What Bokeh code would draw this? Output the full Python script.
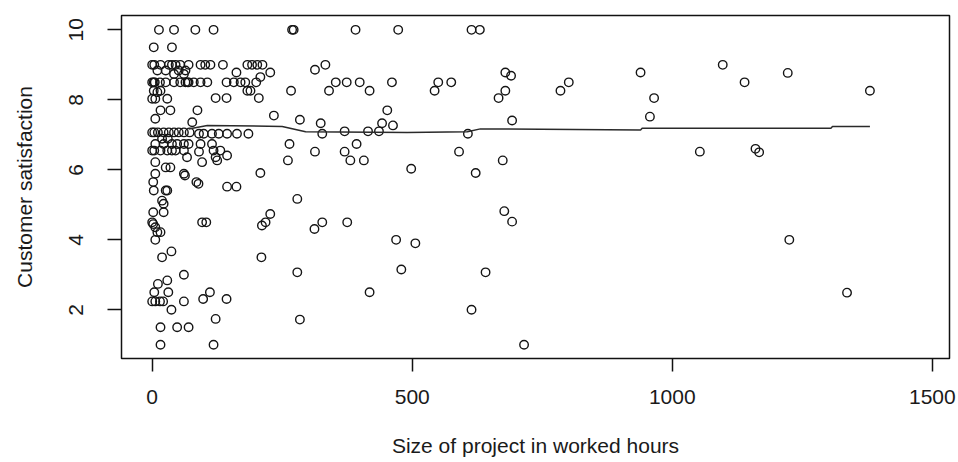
from bokeh.plotting import figure
from bokeh.models import Range1d, FixedTicker
from bokeh.embed import file_html
from bokeh.resources import INLINE

# Project size (worked hours) and customer satisfaction score, one entry per project
hours = [
    13, 42, 83, 118, 269, 272, 391, 473, 614, 630,
    3, 38,
    0, 4, 16, 32, 38, 45, 54, 70, 93, 102, 112, 136, 183, 192, 202, 212, 333, 1097,
    313,
    10, 26, 51, 64,
    162, 227, 679, 939, 1222,
    42, 61,
    690,
    208,
    0, 3, 5, 15, 26, 42, 54, 64, 68, 70, 80, 93, 106, 143, 157, 170, 179, 200, 353, 374, 399, 461, 550, 575, 801, 1139,
    3, 16, 183, 189, 267, 340, 418, 543, 679, 785, 1380,
    10,
    122, 143, 205, 666, 965,
    0, 6, 29,
    16, 35, 87, 452,
    234, 957, 6, 284, 692, 77,
    324, 442,
    463,
    370, 415, 436,
    0, 4, 11, 22, 32, 42, 51, 61, 72,
    90, 99, 115, 128, 144, 163, 185, 327, 607,
    19, 30,
    6, 22, 38, 48, 61, 70, 93, 115, 264, 393,
    1160,
    0, 4, 16, 29, 38, 45, 61, 118, 131,
    90, 313, 370, 590, 1053,
    1167,
    144,
    67, 122,
    125, 261, 381, 407, 674,
    6, 96,
    26, 35,
    498,
    208, 622,
    6, 61,
    63,
    2, 85,
    89,
    144, 162,
    3, 26, 29,
    279, 19, 22,
    677,
    2, 22,
    227, 692,
    0, 96, 104, 218, 327, 375,
    2, 211, 6, 312,
    10, 16,
    6, 469, 1225,
    506, 37,
    19, 210,
    479,
    279, 641,
    61, 29, 11,
    4, 31, 111, 418, 1336,
    98, 143,
    0, 6, 15, 21, 61,
    37, 614,
    122, 284,
    16, 48, 70,
    16, 118, 715,
]

satisfaction = [
    10, 10, 10, 10, 10, 10, 10, 10, 10, 10,
    9.5, 9.5,
    9, 9, 9, 9, 9, 9, 9, 9, 9, 9, 9, 9, 9, 9, 9, 9, 9, 9,
    8.86,
    8.84, 8.84, 8.84, 8.84,
    8.78, 8.78, 8.78, 8.78, 8.77,
    8.74, 8.74,
    8.69,
    8.65,
    8.5, 8.5, 8.5, 8.5, 8.5, 8.5, 8.5, 8.5, 8.5, 8.5, 8.5, 8.5, 8.5, 8.5, 8.5, 8.5, 8.5, 8.5, 8.5, 8.5, 8.5, 8.5, 8.5, 8.5, 8.5, 8.5,
    8.26, 8.26, 8.26, 8.26, 8.26, 8.26, 8.26, 8.26, 8.26, 8.26, 8.26,
    8.22,
    8.05, 8.05, 8.05, 8.05, 8.05,
    8.03, 8.03, 8.03,
    7.7, 7.7, 7.7, 7.7,
    7.55, 7.52, 7.46, 7.43, 7.41, 7.36,
    7.33, 7.33,
    7.27,
    7.1, 7.1, 7.1,
    7.07, 7.07, 7.07, 7.07, 7.07, 7.07, 7.07, 7.07, 7.07,
    7.03, 7.03, 7.03, 7.03, 7.03, 7.03, 7.03, 7.03, 7.03,
    6.89, 6.89,
    6.74, 6.74, 6.74, 6.74, 6.74, 6.74, 6.74, 6.74, 6.74, 6.74,
    6.6,
    6.55, 6.55, 6.55, 6.55, 6.55, 6.55, 6.55, 6.55, 6.55,
    6.52, 6.52, 6.52, 6.52, 6.52,
    6.5,
    6.41,
    6.36, 6.36,
    6.27, 6.27, 6.27, 6.27, 6.27,
    6.22, 6.22,
    6.07, 6.07,
    6.03,
    5.91, 5.91,
    5.89, 5.89,
    5.84,
    5.65, 5.65,
    5.6,
    5.52, 5.52,
    5.41, 5.41, 5.41,
    5.17, 5.12, 5.03,
    4.82,
    4.79, 4.79,
    4.74, 4.52,
    4.5, 4.5, 4.5, 4.5, 4.5, 4.5,
    4.45, 4.41, 4.36, 4.31,
    4.22, 4.22,
    4.0, 4.0, 4.0,
    3.9, 3.67,
    3.5, 3.5,
    3.15,
    3.07, 3.07,
    3.0, 2.84, 2.74,
    2.5, 2.5, 2.5, 2.5, 2.49,
    2.31, 2.31,
    2.24, 2.24, 2.24, 2.24, 2.24,
    2.0, 2.0,
    1.74, 1.72,
    1.5, 1.5, 1.5,
    1.0, 1.0, 1.0,
]

# Smoothed trend of satisfaction against project size
trend_hours = [70, 106, 250, 295, 490, 606, 631, 939, 942, 1305, 1308, 1380]
trend_satisfaction = [7.17, 7.27, 7.24, 7.09, 7.07, 7.09, 7.17, 7.14, 7.19, 7.19, 7.24, 7.24]

x_ticks = [0, 500, 1000, 1500]
y_ticks = [2, 4, 6, 8, 10]

assert len(hours) == len(satisfaction)

FONT = "Liberation Sans"

p = figure(
    width=958, height=462,
    output_backend="svg", toolbar_location=None,
    x_range=Range1d(-59, 1533), y_range=Range1d(0.609, 10.41),
    min_border_left=121, min_border_right=9,
    min_border_top=15, min_border_bottom=104,
    x_axis_label="Size of project in worked hours",
    y_axis_label="Customer satisfaction",
)
p.background_fill_color = "white"
p.border_fill_color = "white"
p.grid.visible = False
p.outline_line_color = "#111111"
p.outline_line_width = 1.5

p.scatter(hours, satisfaction, marker="circle", size=8.5,
          fill_color=None, line_color="#151515", line_width=1.4)
p.line(trend_hours, trend_satisfaction, line_color="#2a2a2a", line_width=1.5)

p.xaxis.ticker = FixedTicker(ticks=x_ticks)
p.yaxis.ticker = FixedTicker(ticks=y_ticks)

for ax in (p.xaxis[0], p.yaxis[0]):
    ax.axis_line_color = None
    ax.minor_tick_line_color = None
    ax.major_tick_in = 0
    ax.major_tick_line_color = "#111111"
    ax.major_tick_line_width = 1.5
    ax.major_label_text_font = FONT
    ax.major_label_text_font_size = "21px"
    ax.major_label_text_color = "#1a1a1a"
    ax.axis_label_text_font = FONT
    ax.axis_label_text_font_size = "21px"
    ax.axis_label_text_font_style = "normal"
    ax.axis_label_text_color = "#1a1a1a"

p.xaxis.major_tick_out = 13
p.xaxis.major_label_standoff = 18
p.xaxis.axis_label_standoff = 27

p.yaxis.major_tick_out = 14
p.yaxis.major_label_orientation = "vertical"
p.yaxis.major_label_standoff = 24
p.yaxis.axis_label_standoff = 31

open("out.html", "w").write(file_html(p, INLINE))
